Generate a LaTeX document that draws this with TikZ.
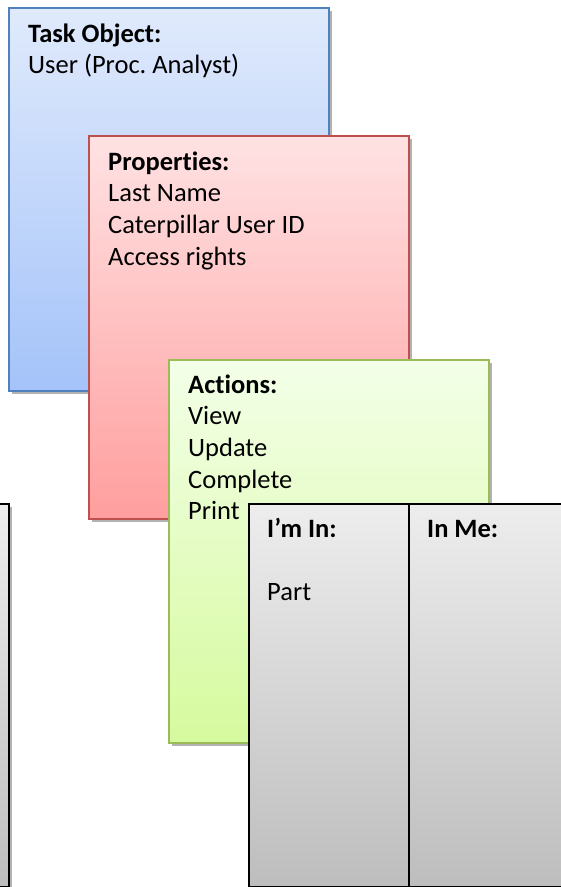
\documentclass[tikz,border=0pt]{standalone}
\usepackage{fontspec}
\setmainfont[Ligatures=NoCommon]{Carlito}
\usetikzlibrary{shadows}
\frenchspacing

\definecolor{bluetop}{RGB}{224,234,252}
\definecolor{bluebot}{RGB}{164,195,249}
\definecolor{blueline}{RGB}{79,129,189}
\definecolor{redtop}{RGB}{255,226,227}
\definecolor{redbot}{RGB}{255,158,158}
\definecolor{redline}{RGB}{192,80,77}
\definecolor{greentop}{RGB}{243,255,232}
\definecolor{greenbot}{RGB}{214,250,158}
\definecolor{greenline}{RGB}{155,187,89}
\definecolor{graytop}{RGB}{237,237,237}
\definecolor{graybot}{RGB}{189,189,189}

\tikzset{
  card/.style={rectangle, anchor=north west, inner sep=0pt, line width=2pt,
    minimum width=320pt, minimum height=383pt,
    drop shadow={shadow xshift=3pt, shadow yshift=-3pt, opacity=0.3, fill=black}},
  column/.style={card, minimum width=160pt, draw=black, line width=2.4pt,
    top color=graytop, bottom color=graybot},
  cardtext/.style={anchor=base west, inner sep=0pt, font=\fontsize{26.5pt}{31.7pt}\selectfont}
}
\newcommand{\cardlines}[1]{\parbox[t]{290pt}{\raggedright #1}}

\begin{document}
\begin{tikzpicture}[x=1pt,y=-1pt]
\useasboundingbox (0,0) rectangle (561,887);
\clip (0,0) rectangle (561,887);
% stacked cards
\node[card, draw=blueline, top color=bluetop, bottom color=bluebot] (task) at (8,7) {};
\node[cardtext] (tasktxt) at (28,42) {\cardlines{\textbf{Task Object:}\\User (Proc.\ Analyst)}};
\node[card, draw=redline, top color=redtop, bottom color=redbot] (props) at (88,135) {};
\node[cardtext] (propstxt) at (108,170) {\cardlines{\textbf{Properties:}\\Last Name\\Caterpillar User ID\\Access rights}};
\node[card, draw=greenline, top color=greentop, bottom color=greenbot] (acts) at (168,359) {};
\node[cardtext] (actstxt) at (188,393) {\cardlines{\textbf{Actions:}\\View\\Update\\Complete\\Print}};
% relation columns
\node[column] (leftcol) at (-152,503) {};
\node[column] (imin) at (248,503) {};
\node[column] (inme) at (408,503) {};
\node[cardtext] (imintxt) at (267,537) {\cardlines{\textbf{I’m In:}\\[31.7pt]Part}};
\node[cardtext] (inmetxt) at (427,537) {\textbf{In Me:}};
\end{tikzpicture}
\end{document}
